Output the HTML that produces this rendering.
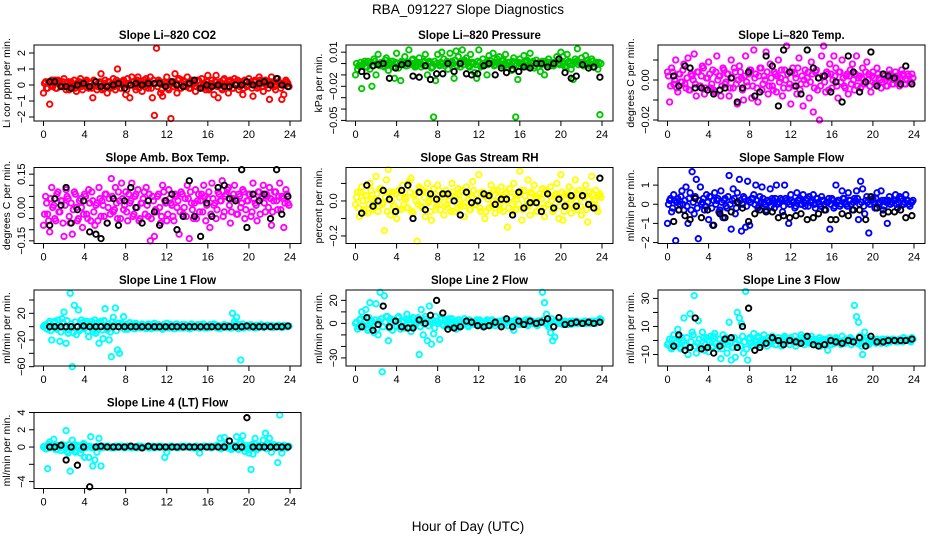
<!DOCTYPE html>
<html><head><meta charset="utf-8"><style>
html,body{margin:0;padding:0;background:#fff;}
svg{display:block;font-family:"Liberation Sans",sans-serif;}
</style></head><body>
<svg id="chart" width="936" height="540" viewBox="0 0 936 540" xmlns="http://www.w3.org/2000/svg">
<rect width="936" height="540" fill="#fff"/>
<text x="468" y="14" font-size="13.5" text-anchor="middle">RBA_091227  Slope Diagnostics</text>
<text x="468" y="531" font-size="13.5" text-anchor="middle">Hour of Day (UTC)</text>
</svg>
<script>
const blackHours=[0.6,1.1,1.7,2.2,2.7,3.3,3.9,4.5,5.1,5.6,6.2,6.8,7.3,7.9,8.5,9.0,9.6,10.2,10.8,11.3,11.9,12.5,13.0,13.6,14.2,14.7,15.3,15.9,16.4,17.0,17.6,18.1,18.7,19.3,19.8,20.4,21.0,21.5,22.1,22.7,23.2,23.8];
const xTicks=[0,4,8,12,16,20,24];

const co2Vals=[-0.5,0.2,-0.2,-1.2,0.3,0.1,-0.2,0.3,0.2,-0.1,0.4,-0.3,0.2,0.1,-0.2,0.3,-0.4,0.2,0.4,-0.3,0.1,0.3,-0.2,-0.1,-0.8,0.2,-0.3,0.1,0.7,-0.2,0.3,-0.5,0.2,-0.1,0.4,-0.3,1.0,0.2,-0.2,0.3,-0.6,0.4,-0.8,0.5,0.2,-0.3,0.5,0.1,-0.4,0.3,0.4,-0.2,0.5,-0.8,-1.9,2.3,0.3,-0.5,-0.7,0.2,0.5,-0.3,-2.1,0.2,0.7,-0.5,0.4,-0.2,0.3,-0.1,0.5,-0.2,0.3,0.1,-0.4,0.3,-0.2,0.4,0.1,-0.3,0.6,-0.2,0.3,-0.6,0.6,-0.8,0.2,-0.3,0.4,0.1,-0.5,0.3,-0.2,0.4,0.1,-0.3,0.2,-0.6,0.3,-0.1,0.4,0.2,-0.7,0.3,-0.2,0.5,0.1,-0.4,0.3,0.2,-0.9,0.5,0.2,-0.3,0.4,0.1,-0.9,-0.6,0.3,0.1];
const co2Core=[0.1,-0.2,0.2,0.0,-0.1,0.3,-0.2,0.1,0.0,0.2,-0.1,0.1,-0.3,0.2,0.0,-0.2,0.1,0.2,-0.1,0.0,0.2,-0.1,0.1,-0.2,0.3,0.0,-0.1,0.2,-0.3,0.1,0.0,0.2,-0.2,0.1,-0.1,0.3,0.0,-0.2,0.2,0.1,-0.3,0.1,0.0,0.2,-0.1,0.3,-0.2,0.0,0.1,-0.1,0.2,0.0,-0.2,0.3,0.1,-0.1,0.2,-0.3,0.0,0.1,-0.2,0.2,0.1,-0.1,0.0,0.3,-0.2,0.1,0.2,-0.1,0.0,-0.2,0.2,0.1,-0.1,0.3,0.0,-0.2,0.1,0.2,-0.3,0.1,0.0,0.2,-0.1,0.1,-0.2,0.3,0.0,-0.1,0.2,0.1,-0.2,0.0,0.3,-0.1,0.1,-0.2,0.2,0.0,0.1,-0.2,0.2,0.0,-0.1,0.3,-0.1,0.1,0.0,-0.2,0.2,0.1,-0.1,0.0,0.2,-0.2,0.1,0.0,0.2,-0.1];
const co2Black=[0.2,0.2,-0.1,-0.1,-0.2,0.0,0.1,-0.1,0.2,-0.1,-0.1,0.0,0.1,-0.2,0.0,0.1,0.0,0.1,0.1,0.1,-0.1,0.2,0.0,-0.1,0.1,0.3,-0.2,0.0,-0.1,0.0,-0.1,-0.1,0.0,0.0,0.2,0.0,0.1,0.2,0.0,0.4,0.0,-0.1];

const presVals=[-0.010,-0.005,-0.002,-0.022,0.000,-0.003,0.002,-0.005,-0.020,0.004,-0.010,0.008,-0.002,0.001,-0.003,0.005,-0.006,0.000,0.002,-0.013,0.009,-0.004,-0.015,0.001,0.006,-0.002,0.012,0.000,0.004,-0.003,-0.001,0.005,-0.003,0.001,0.008,-0.010,0.002,-0.004,-0.047,-0.015,0.008,-0.002,0.010,0.004,0.000,-0.005,0.009,0.002,-0.013,0.011,0.006,-0.003,0.012,0.003,0.005,-0.002,0.008,0.001,-0.008,-0.013,0.012,-0.003,0.004,0.000,-0.010,0.007,0.002,0.009,-0.001,0.004,0.006,-0.002,0.003,0.008,-0.003,0.001,-0.006,0.005,-0.047,-0.014,0.004,-0.001,0.007,0.002,-0.003,0.009,0.001,-0.004,0.003,0.000,-0.007,0.002,-0.010,0.000,0.004,-0.002,0.001,-0.001,0.006,0.000,0.010,0.006,-0.003,0.008,0.002,-0.005,-0.014,0.004,0.013,0.001,0.005,-0.002,0.007,0.003,-0.002,0.004,-0.003,0.001,-0.005,-0.045];
const presCore=[0.000,-0.002,0.001,-0.001,0.002,-0.003,0.000,0.001,-0.002,0.002,-0.001,0.000,0.001,-0.002,0.003,-0.001,0.000,0.002,-0.003,0.001,0.000,-0.001,0.002,0.000,-0.002,0.001,-0.001,0.003,0.000,-0.002,0.001,0.000,-0.001,0.002,-0.002,0.000,0.001,-0.003,0.002,0.000,-0.001,0.001,0.000,-0.002,0.002,0.001,-0.001,0.000,0.003,-0.002,0.000,0.001,-0.001,0.002,0.000,-0.003,0.001,0.000,-0.001,0.002,0.001,-0.002,0.000,0.001,-0.001,0.003,0.000,-0.002,0.001,0.000,-0.001,0.002,0.000,-0.001,0.001,-0.002,0.002,0.000,-0.001,0.001,0.000,-0.002,0.001,0.003,-0.001,0.000,0.002,-0.002,0.000,0.001,-0.001,0.000,0.002,-0.001,0.001,0.000,-0.002,0.001,0.000,-0.001,0.002,0.000,-0.002,0.001,0.000,-0.001,0.001,0.002,-0.001,0.000,0.001,-0.002,0.000,0.001,-0.001,0.002,0.000,-0.001,0.001,0.000];
const presBlack=[-0.007,-0.011,-0.002,-0.001,0.000,-0.013,-0.004,-0.001,0.000,-0.011,-0.012,-0.002,-0.014,-0.009,-0.009,0.000,-0.007,0.000,-0.009,-0.010,-0.009,-0.002,0.000,-0.010,-0.004,-0.008,-0.005,-0.007,-0.003,-0.004,0.000,0.000,-0.003,0.000,0.004,-0.008,-0.013,-0.011,-0.001,-0.004,-0.003,-0.012];

const tempVals=[0.004,-0.011,0.006,-0.002,0.010,-0.006,0.003,-0.001,0.008,-0.004,0.011,-0.005,0.002,0.013,-0.008,0.004,-0.003,0.007,-0.007,0.001,0.009,-0.004,0.005,-0.006,0.012,0.002,-0.008,0.006,-0.002,0.003,-0.008,0.010,-0.004,0.004,-0.012,0.007,0.001,-0.010,0.012,-0.003,0.005,-0.009,0.015,0.003,-0.011,0.006,-0.005,0.002,0.014,-0.007,0.008,-0.003,0.004,-0.006,0.010,0.001,-0.008,0.005,0.017,-0.004,-0.012,0.006,0.003,-0.007,0.011,-0.002,-0.013,0.005,0.001,-0.009,0.009,-0.016,0.004,-0.005,-0.020,0.012,0.017,-0.006,0.003,0.008,-0.004,0.012,0.006,-0.009,0.004,0.010,-0.003,0.002,-0.007,0.005,0.008,-0.005,0.012,0.001,-0.004,0.006,-0.002,0.009,0.003,-0.006,0.004,-0.002,0.006,0.001,-0.004,0.003,0.000,-0.003,0.005,0.002,-0.002,0.004,0.001,-0.003,0.005,0.002,-0.002,0.003,-0.001,0.003];
const tempCore=[0.002,-0.003,0.004,0.000,-0.004,0.003,-0.001,0.005,-0.002,0.001,-0.005,0.003,0.000,-0.002,0.004,-0.003,0.002,0.006,-0.004,0.001,0.003,-0.002,-0.005,0.004,0.000,0.002,-0.003,0.005,-0.001,0.003,-0.004,0.001,0.006,-0.002,0.000,0.004,-0.005,0.002,-0.001,0.003,0.005,-0.003,0.001,-0.004,0.002,0.006,-0.002,0.000,0.004,-0.003,0.001,-0.005,0.003,0.002,-0.001,0.005,-0.004,0.000,0.003,-0.002,0.004,-0.003,0.001,0.006,-0.005,0.002,0.000,-0.002,0.004,-0.001,0.003,-0.004,0.005,0.001,-0.003,0.002,-0.001,0.004,-0.005,0.003,0.000,0.002,-0.003,0.004,-0.001,0.001,-0.004,0.003,0.002,-0.002,0.000,0.003,-0.003,0.002,0.001,-0.002,0.004,0.000,-0.003,0.002,0.001,-0.002,0.003,0.000,-0.001,0.002,-0.003,0.001,0.003,-0.002,0.000,0.002,-0.001,0.001,0.003,-0.002,0.000,0.002,-0.001,0.001];
const tempBlack=[0.002,-0.003,0.007,0.006,-0.004,-0.004,-0.005,-0.007,-0.005,-0.004,0.001,-0.011,-0.004,0.004,-0.008,-0.006,0.012,0.007,-0.013,0.015,0.004,-0.003,-0.007,0.015,0.006,0.001,0.002,-0.006,-0.001,-0.011,0.012,0.004,-0.006,-0.001,0.014,-0.003,0.003,0.002,0.001,-0.002,0.007,-0.002];

const ambVals=[-0.08,0.05,-0.03,-0.11,0.09,0.01,-0.06,0.07,-0.02,0.03,-0.13,0.08,0.04,-0.07,-0.12,0.07,0.00,-0.05,0.04,-0.09,0.06,-0.03,0.08,-0.06,0.03,-0.08,0.02,0.09,-0.04,0.01,0.06,-0.07,0.04,0.13,-0.02,0.09,-0.05,0.03,0.11,-0.01,0.07,-0.06,0.02,0.11,-0.03,0.06,0.08,-0.05,0.02,0.07,0.09,-0.04,-0.15,0.05,-0.13,-0.02,0.06,-0.07,0.10,0.03,-0.06,0.08,0.02,-0.04,0.06,0.00,-0.12,0.07,-0.03,0.04,0.10,-0.14,0.02,-0.05,0.08,0.03,-0.02,0.06,0.10,-0.06,0.04,-0.09,0.11,0.01,-0.05,0.07,0.03,0.12,-0.02,0.06,0.09,-0.07,0.04,0.10,-0.03,0.06,0.00,0.08,-0.05,0.03,0.06,-0.04,0.11,0.02,-0.06,0.07,0.04,0.10,-0.02,0.05,0.09,-0.08,0.03,0.07,-0.01,0.11,0.05,-0.09,0.08,0.02];
const ambCore=[-0.03,0.02,-0.06,0.04,0.00,-0.05,0.06,-0.02,0.03,-0.07,0.01,0.05,-0.04,0.02,-0.01,0.06,-0.06,0.03,0.00,-0.03,0.05,-0.05,0.02,0.07,-0.02,0.01,-0.06,0.04,0.03,-0.04,0.06,0.00,-0.03,0.05,-0.01,0.02,0.07,-0.05,0.04,0.01,-0.02,0.06,0.03,-0.04,0.05,0.00,-0.06,0.02,0.04,-0.03,0.01,0.06,-0.05,0.03,-0.01,0.05,0.00,-0.04,0.07,0.02,-0.03,0.04,0.01,-0.06,0.05,0.03,-0.02,0.06,0.00,-0.04,0.04,0.07,-0.01,0.02,-0.05,0.06,0.03,-0.02,0.05,0.01,0.07,-0.03,0.04,0.02,-0.01,0.06,0.03,-0.04,0.05,0.08,0.01,-0.02,0.06,0.04,-0.03,0.05,0.02,0.07,-0.01,0.03,0.06,-0.02,0.04,0.01,0.07,-0.03,0.05,0.02,0.06,0.00,0.04,-0.02,0.07,0.03,0.05,-0.01,0.04,0.02,0.06,0.01];
const ambBlack=[-0.08,0.04,0.01,0.09,-0.07,-0.01,0.03,-0.11,-0.12,-0.14,-0.07,0.04,-0.08,0.03,0.09,0.00,-0.07,0.03,-0.02,-0.08,0.03,0.06,-0.10,-0.04,0.12,-0.04,-0.13,0.02,-0.04,0.09,0.10,0.04,0.03,0.17,-0.09,0.06,0.03,0.06,-0.05,0.17,-0.03,0.05];

const rhVals=[-0.02,0.05,-0.09,0.08,-0.05,0.03,-0.07,0.10,0.01,-0.04,0.14,-0.06,0.07,-0.02,-0.17,0.12,0.18,-0.08,0.05,-0.03,-0.10,0.06,-0.05,0.09,0.02,-0.04,0.11,0.13,-0.07,0.04,-0.23,0.08,-0.03,0.06,-0.09,0.10,0.00,-0.11,0.07,-0.05,0.09,-0.02,0.04,-0.08,0.06,-0.04,0.03,0.10,-0.06,0.02,0.07,-0.03,0.05,-0.09,0.08,0.01,-0.05,0.11,-0.02,0.04,0.15,-0.06,0.05,-0.10,0.03,-0.04,0.09,0.00,-0.07,0.06,-0.03,0.08,-0.06,0.04,-0.15,0.07,-0.02,0.10,-0.05,0.03,0.17,-0.11,0.06,-0.03,0.12,-0.08,0.04,0.09,-0.06,0.02,-0.04,0.07,-0.09,0.05,-0.02,0.08,-0.06,0.03,0.10,-0.10,0.15,-0.11,0.04,-0.03,0.08,-0.07,0.02,0.12,-0.05,0.06,-0.08,0.03,0.09,-0.12,0.05,0.14,-0.02,0.06,-0.06,0.04];
const rhCore=[0.02,-0.04,0.05,0.00,-0.06,0.03,-0.02,0.06,-0.05,0.01,0.04,-0.03,0.07,-0.01,0.02,-0.06,0.05,0.00,-0.03,0.04,-0.05,0.02,0.06,-0.02,0.01,-0.04,0.05,-0.06,0.03,0.00,-0.02,0.07,-0.04,0.02,0.05,-0.01,-0.06,0.03,0.01,-0.03,0.06,-0.05,0.02,0.04,-0.02,0.00,-0.06,0.05,0.03,-0.04,0.01,0.06,-0.03,-0.01,0.04,-0.05,0.02,0.06,-0.02,0.00,-0.04,0.05,0.03,-0.06,0.01,0.04,-0.03,0.06,-0.01,0.02,-0.05,0.03,0.00,0.05,-0.04,0.02,-0.06,0.04,0.01,-0.02,0.06,-0.05,0.03,0.00,-0.03,0.05,-0.01,0.02,-0.06,0.04,0.01,-0.04,0.06,-0.02,0.03,0.00,-0.05,0.04,0.02,-0.03,0.05,-0.06,0.01,0.03,-0.02,0.06,-0.04,0.00,0.04,-0.03,0.02,0.05,-0.05,0.01,-0.02,0.04,0.00,-0.04,0.03,0.02];
const rhBlack=[-0.07,0.09,-0.03,0.00,0.06,0.01,-0.06,0.06,0.09,-0.10,0.05,-0.05,0.04,0.01,0.04,0.04,0.00,-0.08,0.05,-0.01,0.00,0.04,0.03,-0.02,0.01,0.01,-0.08,0.05,-0.04,-0.01,-0.01,-0.06,0.04,-0.04,0.01,-0.03,0.03,-0.03,0.03,-0.02,-0.04,0.13];

const sampleVals=[-1.0,0.2,-0.4,0.5,-1.9,0.3,0.0,0.7,-0.3,0.9,-1.0,0.6,1.7,-0.5,1.3,-1.8,0.9,0.1,-0.3,0.5,-0.8,0.4,-1.1,0.6,0.2,-0.4,0.7,-0.7,0.3,-0.2,1.5,-1.3,0.8,-0.5,0.6,1.3,-1.4,0.4,-1.2,1.2,-1.1,0.3,0.5,1.0,-0.2,0.4,0.9,0.1,-0.3,0.2,0.8,0.3,-0.2,1.0,0.1,0.3,-0.4,1.0,0.2,-1.0,0.5,0.1,-0.2,0.6,0.2,0.0,0.5,-0.1,0.3,0.4,0.1,0.5,-0.2,0.3,0.0,0.4,0.2,-0.3,0.1,-1.3,0.3,-0.2,1.0,0.2,-0.1,0.7,0.3,0.0,0.6,0.2,-0.3,0.3,0.7,-0.8,1.2,0.8,-0.5,0.4,-1.5,0.2,0.3,-0.2,0.6,0.1,0.7,-0.3,0.2,-1.0,0.4,0.1,0.2,0.5,-0.2,0.4,0.3,0.0,0.5,0.2,-0.1,0.1];
const sampleCore=[0.0,0.3,-0.2,0.2,0.1,-0.3,0.4,0.0,0.2,-0.1,0.3,-0.3,0.1,0.4,-0.2,0.2,0.0,0.3,-0.1,0.1,0.4,-0.2,0.2,0.0,0.3,-0.3,0.1,0.2,-0.1,0.4,0.0,0.2,0.3,-0.2,0.1,0.2,0.0,0.3,-0.1,0.2,0.1,0.3,0.0,0.2,-0.1,0.1,0.3,0.0,0.2,0.1,-0.1,0.2,0.3,0.0,0.1,0.2,-0.1,0.3,0.1,0.0,0.2,0.1,-0.1,0.2,0.3,0.0,0.1,0.2,-0.1,0.1,0.2,0.0,0.3,0.1,-0.1,0.2,0.0,0.1,0.3,0.0,0.2,-0.1,0.1,0.2,0.0,0.3,0.1,-0.1,0.2,0.0,0.1,0.2,0.3,0.0,0.1,-0.1,0.2,0.1,0.0,0.2,0.1,0.3,0.0,0.1,0.2,-0.1,0.1,0.2,0.0,0.1,0.2,0.0,0.1,0.3,0.0,0.1,0.2,0.0,0.1,0.2];
const sampleBlack=[-0.9,-0.3,-0.6,-0.8,0.3,-0.7,-0.3,-1.1,-0.5,-0.7,-0.4,0.1,-0.2,-0.9,-0.5,-0.3,-0.4,-0.4,-0.7,-0.6,-0.7,-0.6,-0.5,-0.8,-0.7,-0.5,-0.3,-0.8,-0.8,-0.5,-0.6,-0.3,-0.3,-0.8,0.4,-0.2,-0.5,-0.4,-0.4,-0.3,-0.7,-0.6];

const line1Vals=[0,3,-4,8,-20,5,-2,10,-22,12,22,-25,-10,50,-60,32,-12,25,-3,6,-2,8,-15,4,-8,10,-6,-25,8,-18,27,-5,-20,-45,14,28,-35,-40,5,15,3,-4,6,2,-3,5,0,-2,4,1,-3,4,2,-1,5,-2,3,0,-4,2,5,-2,3,1,-3,4,0,2,-2,3,1,-3,4,2,-1,3,-2,0,4,1,-2,3,0,4,-1,2,-3,1,3,-1,2,-2,20,8,14,-3,-50,4,0,2,-1,3,1,-2,2,0,3,-1,1,2,0,2,-1,1,2,0,-1,2,1,0];
const line1Core=[2,-3,5,-6,1,8,-4,3,-8,6,-2,9,-5,4,-9,7,0,-6,10,-3,5,-7,2,8,-4,-10,6,1,-5,9,-2,4,-8,7,3,-6,5,-1,2,-4,3,-2,1,4,-3,2,0,-1,3,-2,1,2,-3,4,0,-1,2,-2,3,1,-1,2,0,-3,4,1,-2,3,0,-1,2,-3,1,2,0,-1,3,1,-2,0,2,-1,1,3,-2,0,1,-1,2,0,1,-2,2,4,-1,3,0,-2,1,2,-1,1,0,2,-1,1,0,-1,2,0,1,-1,0,1,2,0,-1,1,0,1];
const line1Black=[0,0,0,0,0,0,1,0,0,0,0,0,0,0,0,0,0,0,0,0,0,0,0,0,0,0,0,0,0,0,0,0,0,0,1,0,0,0,0,0,0,1];

const line2Vals=[0,-5,3,10,-3,12,-6,18,2,-8,17,-10,27,-42,24,6,-15,4,-6,2,-3,6,-5,2,-4,8,3,-7,5,-2,3,-27,12,-10,6,-15,15,-18,-9,6,2,-14,5,-2,3,1,-3,4,0,-5,3,1,-2,4,0,-3,2,1,-1,3,0,2,-3,1,3,-1,2,0,-2,1,2,-1,3,0,-2,2,1,-6,3,0,-1,2,0,3,-2,1,2,0,-1,2,1,27,18,8,-3,-8,-15,-12,2,0,1,-1,2,0,1,-1,2,1,0,1,1,0,2,1,0,1,2,0,1,4];
const line2Core=[1,-3,4,-1,2,-4,5,0,-2,3,-5,2,4,-3,1,6,-4,0,3,-2,5,-1,-3,2,4,-4,1,3,-2,0,5,-3,2,-1,4,-2,1,3,-4,2,0,3,-1,2,-2,4,1,-3,2,0,3,-1,1,2,-2,3,0,1,-1,2,3,0,-1,2,1,-2,3,0,1,2,-1,0,3,1,-2,2,0,1,3,-1,2,0,1,-1,3,2,0,1,-2,2,1,3,0,-1,2,4,-3,2,0,1,2,0,1,-1,2,1,0,2,1,0,1,2,0,1,2,1,0,2,1,3];
const line2Black=[-3,5,-6,-1,15,-3,2,-3,-4,-4,3,0,7,20,9,-5,-4,-3,2,1,-2,-3,-2,1,-3,4,-3,2,-1,2,0,1,4,-3,5,-1,0,1,0,1,0,1];

const line3Vals=[-3,1,-6,4,-2,8,-5,2,16,-4,-10,19,6,32,-9,14,-4,6,-7,2,-8,3,-4,5,-6,1,-13,4,-2,-9,13,-14,-5,-12,20,16,12,-9,35,-14,2,-4,5,-1,3,-3,1,4,-2,2,-1,3,0,-3,2,-2,1,3,-1,0,2,-1,3,0,-2,4,-1,1,2,-2,3,-1,1,-3,2,0,-2,1,-7,2,1,-2,2,0,-1,3,-2,1,0,2,-1,25,17,13,-2,-10,6,2,-3,1,0,-1,1,0,-2,1,0,1,-1,0,1,0,-1,1,0,2,0,1,0,2];
const line3Core=[-2,-5,1,-4,-1,3,-6,0,-3,2,-5,-1,4,-4,-2,1,-6,2,-3,0,-1,-5,3,-2,-4,1,-6,0,2,-3,-1,-5,2,-2,0,-4,3,-1,-6,1,-2,-4,0,-1,2,-3,-1,1,-4,0,-2,1,-3,0,-1,-4,2,-2,0,-3,1,-1,-4,0,-2,2,-3,-1,0,-2,1,-3,-1,0,-4,1,-2,0,-1,-3,0,-2,1,-1,-3,0,-2,-1,1,-3,-1,0,-2,3,-4,-1,0,-2,1,-1,0,-2,-1,0,1,-1,-2,0,-1,1,0,-1,0,1,-1,0,1,0,-1,1];
const line3Black=[-4,4,-7,-5,16,-6,-5,-9,-4,1,2,-5,10,23,-7,-5,-2,2,0,-3,0,-1,-2,3,-3,-4,-3,0,-1,-2,0,-1,2,-4,3,-1,-1,0,0,0,0,1];

const line4Vals=[0,-0.2,-2.5,0.6,0.1,0.9,-0.3,0.2,-0.1,0.3,0.2,1.9,-0.7,-2.8,0.8,0.3,-0.4,0.1,-0.7,0.2,-1.2,0.1,-1.2,1.2,-2.2,-1.5,-0.6,1.0,-2.2,0.1,0,0.1,0,-0.1,0,0.1,0,0,0.1,0,0,0.1,0,-0.1,0,0,0.1,0,-0.1,0,0,0.1,0,0,-0.1,0,0.1,0,0,-1.2,-0.6,0,0.1,0,0,-0.1,0,0.1,0,0,0,0.1,0,0,-0.1,0,-0.7,0,0.1,0,0,0.1,0,0,0.1,0,1.0,0,1.1,0.3,0,-0.2,0.1,0,1.2,-0.3,0.6,1.3,-0.5,-0.2,-0.7,-2.6,-0.8,1.0,-0.3,0.2,0,0.8,1.6,0.5,1.0,-0.6,0.3,0,-1.8,3.7,-0.7,0.2,0,0.1];
const line4Core=[0.1,-0.2,0.3,-0.1,0.0,0.2,-0.3,0.1,-0.4,0.2,0.0,-0.5,0.3,-0.2,0.1,-0.6,0.2,0.0,-0.3,0.4,-0.1,0.0,0.1,-0.1,0.0,0.0,0.1,0.0,-0.1,0.0,0.0,0.1,0.0,0.0,-0.1,0.0,0.1,0.0,0.0,-0.1,0.0,0.0,0.1,0.0,0.0,-0.1,0.0,0.1,0.0,0.0,0.0,-0.1,0.0,0.1,0.0,0.0,0.0,0.1,0.0,-0.1,0.0,0.0,0.1,0.0,0.0,-0.1,0.0,0.0,0.1,0.0,0.0,0.0,-0.1,0.0,0.1,0.0,0.0,0.0,0.1,0.0,0.0,-0.1,0.0,0.1,0.2,0.0,-0.2,0.1,0.3,-0.1,0.0,-0.3,0.2,0.1,-0.2,0.4,-0.1,0.0,0.2,-0.3,0.1,0.3,-0.2,0.0,0.2,-0.1,0.1,0.0,-0.2,0.2,0.0,0.1,-0.1,0.0,0.2,-0.2,0.1,0.0,-0.1,0.1];
const line4Black=[0,0,0.2,-1.5,0,-2.1,0,-4.6,0,0.1,0,0,0,0,0.1,0,-0.1,0.1,0,0,0,0,0,0,0,0,0,0,0,0,0,0.7,0,0,3.4,0,0,0,0,0,0,0];

const NS='http://www.w3.org/2000/svg';
const svg=document.getElementById('chart');
const rowTops=[45,167.5,290,412.5];
function mk(tag,attrs,parent){const e=document.createElementNS(NS,tag);for(const k in attrs)e.setAttribute(k,attrs[k]);(parent||svg).appendChild(e);return e;}
const sgn=v=>String(v).replace('-','\u2212');
const fx=d=>v=>(v<0?'\u2212':'')+Math.abs(v).toFixed(d);

const panels=[
 {key:'co2',title:'Slope Li\u2013820 CO2',ylab:'Li cor ppm per min.',r:0,c:0,ylim:[-2.25,2.5],ticks:[-2,-1,0,1,2],labels:[-2,-1,0,1,2],vals:co2Vals,core:co2Core,blk:co2Black,col:'#ff0000',fmt:sgn},
 {key:'pressure',title:'Slope Li\u2013820 Pressure',ylab:'kPa per min.',r:0,c:1,ylim:[-0.0505,0.0163],ticks:[-0.05,-0.04,-0.03,-0.02,-0.01,0,0.01],labels:[-0.05,-0.02,0.01],vals:presVals,core:presCore,blk:presBlack,col:'#00c800',fmt:fx(2)},
 {key:'temp',title:'Slope Li\u2013820 Temp.',ylab:'degrees C per min.',r:0,c:2,ylim:[-0.0205,0.0175],ticks:[-0.02,-0.01,0,0.01],labels:[-0.02,0],vals:tempVals,core:tempCore,blk:tempBlack,col:'#ff00ff',fmt:fx(2)},
 {key:'amb',title:'Slope Amb. Box Temp.',ylab:'degrees C per min.',r:1,c:0,ylim:[-0.162,0.18],ticks:[-0.15,-0.1,-0.05,0,0.05,0.1,0.15],labels:[-0.15,0,0.15],vals:ambVals,core:ambCore,blk:ambBlack,col:'#ff00ff',fmt:fx(2)},
 {key:'rh',title:'Slope Gas Stream RH',ylab:'percent per min.',r:1,c:1,ylim:[-0.243,0.191],ticks:[-0.2,-0.1,0,0.1],labels:[-0.2,0],vals:rhVals,core:rhCore,blk:rhBlack,col:'#ffff00',fmt:fx(1)},
 {key:'sample',title:'Slope Sample Flow',ylab:'ml/min per min.',r:1,c:2,ylim:[-2.05,1.92],ticks:[-2,-1,0,1],labels:[-2,-1,0,1],vals:sampleVals,core:sampleCore,blk:sampleBlack,col:'#0000ff',fmt:sgn},
 {key:'line1',title:'Slope Line 1 Flow',ylab:'ml/min per min.',r:2,c:0,ylim:[-59,55],ticks:[-60,-40,-20,0,20,40],labels:[-60,-20,20],vals:line1Vals,core:line1Core,blk:line1Black,col:'#00ffff',fmt:sgn},
 {key:'line2',title:'Slope Line 2 Flow',ylab:'ml/min per min.',r:2,c:1,ylim:[-37,29],ticks:[-30,-20,-10,0,10,20],labels:[-30,0,20],vals:line2Vals,core:line2Core,blk:line2Black,col:'#00ffff',fmt:sgn},
 {key:'line3',title:'Slope Line 3 Flow',ylab:'ml/min per min.',r:2,c:2,ylim:[-18.2,36],ticks:[-10,0,10,20,30],labels:[-10,10,30],vals:line3Vals,core:line3Core,blk:line3Black,col:'#00ffff',fmt:sgn},
 {key:'line4',title:'Slope Line 4 (LT) Flow',ylab:'ml/min per min.',r:3,c:0,ylim:[-4.8,4.0],ticks:[-4,-2,0,2,4],labels:[-4,0,2,4],vals:line4Vals,core:line4Core,blk:line4Black,col:'#00ffff',fmt:sgn}
];

panels.forEach(p=>{
  const L=34+312*p.c, T=rowTops[p.r], W=267, H=76, B=T+H;
  const xs=h=>L+9.5+h*(246.5/24);
  const ys=v=>B-(v-p.ylim[0])/(p.ylim[1]-p.ylim[0])*H;
  const g=mk('g',{});
  
  
  const t=mk('text',{x:L+W/2,y:T-6,'font-size':'11.5','font-weight':'bold','text-anchor':'middle'},g);
  
  
  t.textContent=p.title;
  const cg=mk('g',{fill:'none',stroke:p.col,'stroke-width':'1.9'},g);
  
  
  p.vals.forEach((v,i)=>{
    const c=mk('circle',{cx:xs(i*24/p.vals.length).toFixed(1),cy:ys(v).toFixed(1),r:'2.7'},cg);
    
    
  });
  p.core.forEach((v,i)=>{
    const c=mk('circle',{cx:xs((i+0.5)*24/p.core.length).toFixed(1),cy:ys(v).toFixed(1),r:'2.7'},cg);
    
    
  });
  const bg=mk('g',{fill:'none',stroke:'#000','stroke-width':'1.9'},g);
  
  
  p.blk.forEach((v,i)=>{
    const c=mk('circle',{cx:xs(blackHours[i]).toFixed(1),cy:ys(v).toFixed(1),r:'2.7'},bg);
    
    
  });
  const box=mk('rect',{x:L,y:T,width:W,height:H,fill:'none',stroke:'#000','stroke-width':'1'},g);
  
  
  const xa=mk('g',{'font-size':'11'},g);
  
  
  mk('line',{x1:xs(0),x2:xs(24),y1:B,y2:B,stroke:'#000'},xa);
  xTicks.forEach(h=>{
    mk('line',{x1:xs(h),x2:xs(h),y1:B,y2:B+5,stroke:'#000'},xa);
    const tl=mk('text',{x:xs(h),y:B+17,'text-anchor':'middle'},xa);
    
    
    tl.textContent=h;
  });
  const ya=mk('g',{'font-size':'11'},g);
  
  
  mk('line',{x1:L,x2:L,y1:ys(p.ticks[0]),y2:ys(p.ticks[p.ticks.length-1]),stroke:'#000'},ya);
  p.ticks.forEach(v=>{mk('line',{x1:L-5,x2:L,y1:ys(v),y2:ys(v),stroke:'#000'},ya);});
  p.labels.forEach(v=>{
    const x=L-9, y=ys(v);
    const tl=mk('text',{x:x,y:y,'text-anchor':'middle',transform:`rotate(-90 ${x} ${y})`},ya);
    
    
    tl.textContent=p.fmt(v);
  });
  const yx=L-24, yy=T+H/2;
  const yt=mk('text',{x:yx,y:yy,'font-size':'10.5','text-anchor':'middle',transform:`rotate(-90 ${yx} ${yy})`},g);
  
  
  yt.textContent=p.ylab;
});
</script>
</body></html>
